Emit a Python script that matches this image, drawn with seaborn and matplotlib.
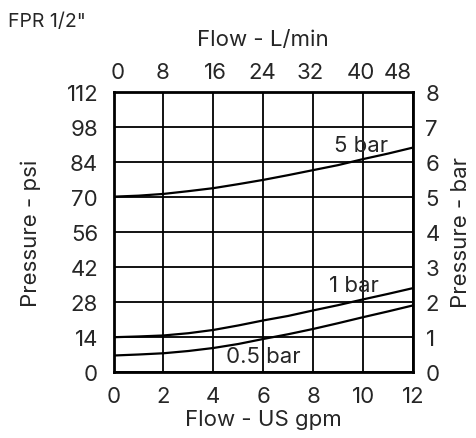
import matplotlib
matplotlib.use("Agg")
import matplotlib.pyplot as plt
import seaborn as sns
import pandas as pd

# Data
flow_gpm = [0, 1, 2, 3, 4, 5, 6, 7, 8, 9, 10, 11, 12]
p_5bar = [70.1, 70.5, 71.2, 72.3, 73.5, 75.1, 76.8, 78.7, 80.7, 82.7, 85.1, 87.3, 89.7]
p_1bar = [14.0, 14.3, 14.7, 15.6, 16.9, 18.7, 20.7, 22.5, 24.7, 26.8, 29.1, 31.3, 33.6]
p_05bar = [6.7, 7.1, 7.6, 8.5, 9.7, 11.3, 13.3, 15.2, 17.3, 19.6, 22.0, 24.3, 26.7]
series_names = ["5 bar", "1 bar", "0.5 bar"]

psi_ticks = [0, 14, 28, 42, 56, 70, 84, 98, 112]
bar_labels = ["0", "1", "2", "3", "4", "5", "6", "7", "8"]
gpm_ticks = [0, 2, 4, 6, 8, 10, 12]
lpm_labels = ["0", "8", "16", "24", "32", "40", "48"]
lpm_tick_pos = [0.15, 1.95, 4.1, 5.95, 7.9, 9.9, 11.4]

rows = []
for name, vals in zip(series_names, [p_5bar, p_1bar, p_05bar]):
    for x, y in zip(flow_gpm, vals):
        rows.append({"gpm": x, "psi": y, "series": name})
df = pd.DataFrame(rows)

sns.set_style("white")
plt.rcParams["font.family"] = ["Inter", "DejaVu Sans"]
plt.rcParams["font.weight"] = 400
TXT = "#262626"
FS = 16

fig = plt.figure(figsize=(4.76, 4.39), dpi=100)
ax = fig.add_axes([113.5 / 476, 1 - 373.3 / 439, 299.5 / 476, 280.6 / 439])

sns.lineplot(data=df, x="gpm", y="psi", units="series", estimator=None,
             color="black", linewidth=1.6, ax=ax, legend=False)

ax.set_xlim(0, 12)
ax.set_ylim(0, 112)
ax.set_xticks(gpm_ticks)
ax.set_yticks(psi_ticks)
ax.set_xticklabels([str(t) for t in gpm_ticks])
ax.set_yticklabels([str(t) for t in psi_ticks])
ax.grid(True, color="black", linewidth=1.3)
ax.tick_params(axis="y", length=0, labelsize=FS, colors=TXT, pad=11)
ax.tick_params(axis="x", length=0, labelsize=FS, colors=TXT, pad=10)
for s in ax.spines.values():
    s.set_visible(True)
    s.set_color("black")
    s.set_linewidth(2)
ax.set_xlabel("Flow - US gpm", fontsize=FS, color=TXT, labelpad=2)
ax.set_ylabel("Pressure - psi", fontsize=FS, color=TXT, labelpad=18)

# right axis
axr = ax.twinx()
axr.set_ylim(0, 112)
axr.set_yticks(psi_ticks)
axr.set_yticklabels(bar_labels)
axr.tick_params(length=0, labelsize=FS, colors=TXT, pad=9)
axr.set_ylabel("Pressure - bar", fontsize=FS, color=TXT, labelpad=8)
axr.grid(False)
for s in axr.spines.values():
    s.set_visible(False)

# top axis
axt = ax.twiny()
axt.set_xlim(0, 12)
axt.set_xticks(lpm_tick_pos)
axt.set_xticklabels(lpm_labels)
axt.tick_params(length=0, labelsize=FS, colors=TXT, pad=7)
axt.set_xlabel("Flow - L/min", fontsize=FS, color=TXT, labelpad=12)
axt.grid(False)
for s in axt.spines.values():
    s.set_visible(False)

# curve labels
ax.text(11.0, 90.7, "5 bar", ha="right", va="center", fontsize=FS, color=TXT)
ax.text(10.65, 34.7, "1 bar", ha="right", va="center", fontsize=FS, color=TXT)
ax.text(4.5, 6.7, "0.5 bar", ha="left", va="center", fontsize=FS, color=TXT)

fig.text(8 / 476, 1 - 22 / 439, 'FPR 1/2"', fontsize=14, color=TXT, ha="left", va="center")

fig.savefig("out.png", dpi=100)
